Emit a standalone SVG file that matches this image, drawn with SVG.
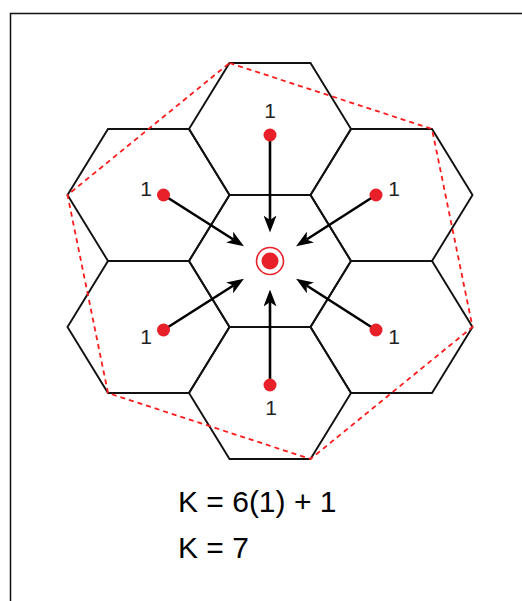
<svg xmlns="http://www.w3.org/2000/svg" width="522" height="601" viewBox="0 0 522 601">
  <style>
    .hex { fill: none; stroke: #111; stroke-width: 1.9; stroke-linejoin: miter; }
    .cluster { fill: none; stroke: #ff1a1a; stroke-width: 1.8; stroke-dasharray: 5 4; }
    .dot { fill: #e8202a; }
    .arrow { stroke: #000; stroke-width: 2.6; fill: none; marker-end: url(#head); }
    .lbl { font-family: "Liberation Sans", Arial, sans-serif; font-size: 21px; fill: #222; text-anchor: middle; }
    .eq { font-family: "Liberation Sans", Arial, sans-serif; font-size: 30px; fill: #000; }
  </style>
  <defs>
    <polygon id="hexShape" points="-81,0 -40.5,-66 40.5,-66 81,0 40.5,66 -40.5,66"/>
    <marker id="head" markerUnits="userSpaceOnUse" viewBox="0 0 17 13" refX="4.5" refY="6.5" markerWidth="17" markerHeight="13" orient="auto">
      <path d="M0,0 L17,6.5 L0,13 L4.5,6.5 Z" fill="#000"/>
    </marker>
  </defs>

  <rect x="10.5" y="13.5" width="620" height="700" fill="#fff" stroke="#111" stroke-width="1.5"/>

  <g id="hex-center"><use href="#hexShape" class="hex" x="270" y="261"/></g>
  <g id="hex-top"><use href="#hexShape" class="hex" x="270" y="129"/></g>
  <g id="hex-bottom"><use href="#hexShape" class="hex" x="270" y="393"/></g>
  <g id="hex-top-left"><use href="#hexShape" class="hex" x="148.5" y="195"/></g>
  <g id="hex-top-right"><use href="#hexShape" class="hex" x="391.5" y="195"/></g>
  <g id="hex-bottom-left"><use href="#hexShape" class="hex" x="148.5" y="327"/></g>
  <g id="hex-bottom-right"><use href="#hexShape" class="hex" x="391.5" y="327"/></g>

  <g id="cluster-outline">
    <polygon class="cluster" points="229.5,63 432,129 472.5,327 310.5,459 108,393 67.5,195"/>
  </g>

  <g id="connectors">
    <line class="arrow" x1="270" y1="135" x2="270" y2="220"/>
    <line class="arrow" x1="270" y1="385" x2="270" y2="302"/>
    <line class="arrow" x1="163.5" y1="195" x2="233.4" y2="239.5"/>
    <line class="arrow" x1="376" y1="195" x2="306.6" y2="239.5"/>
    <line class="arrow" x1="163.5" y1="330" x2="233.4" y2="285.5"/>
    <line class="arrow" x1="376" y1="330" x2="306.6" y2="285.5"/>
  </g>

  <g id="cell-top"><circle class="dot" cx="270" cy="135" r="6.5"/><text class="lbl" x="270" y="118">1</text></g>
  <g id="cell-bottom"><circle class="dot" cx="270" cy="385" r="6.5"/><text class="lbl" x="271" y="415">1</text></g>
  <g id="cell-top-left"><circle class="dot" cx="163.5" cy="195" r="6.5"/><text class="lbl" x="146" y="196">1</text></g>
  <g id="cell-top-right"><circle class="dot" cx="376" cy="195" r="6.5"/><text class="lbl" x="394" y="196">1</text></g>
  <g id="cell-bottom-left"><circle class="dot" cx="163.5" cy="330" r="6.5"/><text class="lbl" x="146" y="344">1</text></g>
  <g id="cell-bottom-right"><circle class="dot" cx="376" cy="330" r="6.5"/><text class="lbl" x="394" y="344">1</text></g>

  <g id="center-cell">
    <circle cx="270" cy="261" r="13.5" fill="#fff" stroke="#e8202a" stroke-width="1.6"/>
    <circle class="dot" cx="270" cy="261" r="8.5"/>
  </g>

  <g id="formula">
    <text class="eq" x="178" y="512">K = 6(1) + 1</text>
    <text class="eq" x="178" y="558">K = 7</text>
  </g>
</svg>
